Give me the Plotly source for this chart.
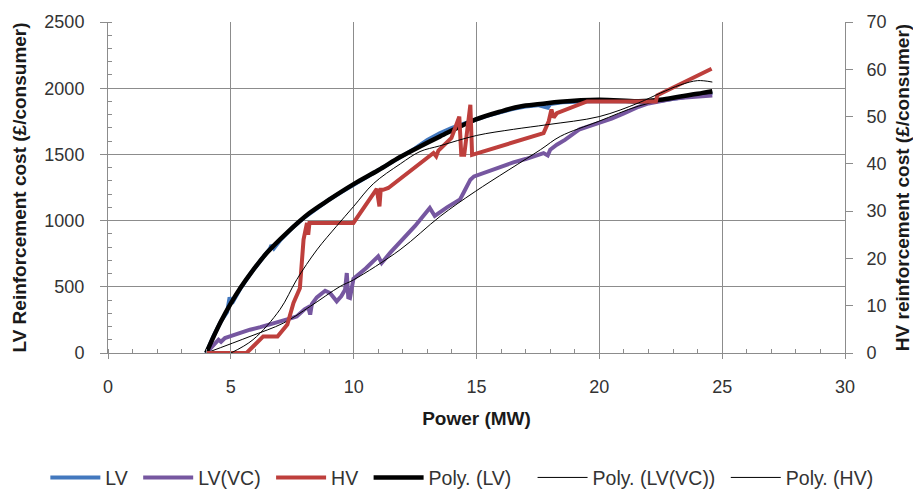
import plotly.graph_objects as go

# ---------------- data ----------------
lv_x = [4.0, 4.3, 4.6, 4.85, 4.95, 5.05, 5.4, 5.8, 6.2, 6.6, 6.65, 6.75, 7.0, 7.5, 8.0, 8.5,
        9.0, 9.5, 10.0, 10.5, 11.0, 11.5, 12.0, 12.5, 13.0, 13.5, 14.0, 14.5, 15.0, 15.5,
        16.0, 16.5, 17.0, 17.5, 17.9, 18.0, 18.5, 19.0, 19.5, 20.0, 20.5, 21.0, 21.5,
        22.0, 22.5, 23.0, 23.5, 24.0, 24.6]
lv_y = [0, 130, 240, 310, 420, 375, 490, 600, 695, 790, 815, 790, 850, 945, 1025, 1095,
        1158, 1215, 1270, 1325, 1380, 1435, 1490, 1545, 1610, 1660, 1700, 1735, 1765, 1795,
        1822, 1845, 1862, 1872, 1852, 1880, 1893, 1898, 1902, 1903, 1902, 1900, 1898,
        1900, 1906, 1920, 1935, 1950, 1965]

lvvc_x = [4.0, 4.3, 4.5, 4.6, 4.76, 4.96, 5.2, 5.5, 5.78, 6.2, 6.5, 6.86, 7.2, 7.5, 7.68,
          7.81, 8.0, 8.15, 8.23, 8.3, 8.5, 8.84, 9.04, 9.31, 9.5, 9.65, 9.72, 9.78, 9.85,
          9.99, 10.5, 11.0, 11.14, 11.5, 12.0, 12.5, 13.1, 13.3, 13.8, 14.33, 14.5, 14.75,
          14.9, 15.5, 16.0, 16.5, 17.0, 17.5, 17.73, 17.9, 18.0, 18.27, 18.6, 19.2, 19.6,
          20.0, 20.5, 21.0, 21.6, 22.0, 22.5, 23.0, 23.5, 24.0, 24.6]
lvvc_y = [0, 60, 100, 85, 113, 125, 140, 160, 176, 195, 210, 226, 245, 265, 276,
          302, 330, 345, 290, 370, 420, 470, 453, 390, 430, 478, 604, 420, 415,
          560, 640, 730, 680, 760, 860, 960, 1095, 1035, 1100, 1160, 1220, 1309,
          1334, 1375, 1410, 1440, 1465, 1495, 1510, 1492, 1535, 1573, 1610, 1690, 1715,
          1735, 1770, 1810, 1860, 1885, 1905, 1920, 1930, 1938, 1945]

hv_x = [4.0, 5.64, 6.32, 6.9, 7.3, 7.55, 7.81, 7.96, 8.1, 8.15, 8.2, 9.99, 10.94, 11.05,
        11.1, 11.2, 11.41, 13.25, 13.36, 13.45, 13.98, 14.3, 14.38, 14.5, 14.75, 14.82,
        17.73, 17.94, 18.05, 18.14, 18.27, 19.5, 22.3, 22.36, 24.57]
hv_y = [0, 0, 3.5, 3.5, 6.0, 10.6, 13.7, 24.0, 27.5, 25.0, 27.5, 27.5, 34.7, 31.0,
        34.5, 34.5, 34.9, 42.3, 41.6, 42.8, 45.5, 50.0, 41.9, 41.9, 52.5, 41.9,
        46.5, 49.0, 51.5, 49.8, 50.7, 53.2, 53.2, 54.5, 60.1]

poly_lv_x = [4.0, 4.3, 4.6, 5.0, 5.4, 5.8, 6.46, 7.27, 8.2, 9.0, 10.0, 11.0, 11.89, 12.7,
             13.52, 14.95, 16.0, 16.78, 17.6, 18.41, 19.98, 21.6, 22.49, 23.3, 24.0, 24.6]
poly_lv_y = [0, 125, 240, 375, 495, 600, 755, 906, 1057, 1158, 1275, 1380, 1480, 1560,
             1636, 1762, 1825, 1862, 1880, 1898, 1913, 1902, 1913, 1938, 1958, 1978]

poly_lvvc_x = [4.0, 5.78, 7.14, 8.23, 9.45, 10.0, 11.89, 13.52, 14.95, 17.6, 18.41, 19.98,
               21.6, 23.3, 24.6]
poly_lvvc_y = [0, 125, 226, 352, 503, 553, 780, 1032, 1220, 1535, 1636, 1750,
               1865, 1935, 1960]

poly_hv_x = [5.0, 5.9, 7.0, 7.68, 8.5, 9.3, 10.0, 10.8, 11.9, 12.7, 13.5, 15.0, 16.5, 17.9,
             20.0, 21.6, 22.5, 23.3, 24.0, 24.6]
poly_hv_y = [0, 2.8, 9.2, 15.5, 21.8, 26.8, 31.0, 35.8, 40.0, 42.6, 43.8, 46.0, 47.3, 48.3,
             50.0, 52.9, 55.0, 56.7, 57.6, 57.3]

x_ticks = [0, 5, 10, 15, 20, 25, 30]
y1_ticks = [0, 500, 1000, 1500, 2000, 2500]
y2_ticks = [0, 10, 20, 30, 40, 50, 60, 70]

# ---------------- figure ----------------
FONT = "Liberation Sans, Arial, sans-serif"
GRID = "#8c8c8c"
TITLE_FONT = dict(family=FONT, size=19, color="#1a1a1a")
PAD = "\u00a0"   # small trailing pad so legend entries spread like the reference

fig = go.Figure()
fig.add_trace(go.Scatter(x=lv_x, y=lv_y, name="LV" + PAD, mode="lines",
                         line=dict(color="#4378BE", width=4)))
fig.add_trace(go.Scatter(x=lvvc_x, y=lvvc_y, name="LV(VC)" + PAD, mode="lines",
                         line=dict(color="#7657A0", width=4)))
fig.add_trace(go.Scatter(x=hv_x, y=hv_y, name="HV" + PAD, mode="lines", yaxis="y2",
                         line=dict(color="#BE3F3C", width=4)))
fig.add_trace(go.Scatter(x=poly_lv_x, y=poly_lv_y, name="Poly. (LV)" + PAD * 3, mode="lines",
                         line=dict(color="black", width=4.5, shape="spline", smoothing=1)))
fig.add_trace(go.Scatter(x=poly_lvvc_x, y=poly_lvvc_y, name="Poly. (LV(VC))" + PAD, mode="lines",
                         line=dict(color="black", width=1, shape="spline", smoothing=1)))
fig.add_trace(go.Scatter(x=poly_hv_x, y=poly_hv_y, name="Poly. (HV)", mode="lines", yaxis="y2",
                         line=dict(color="black", width=1, shape="spline", smoothing=1)))

fig.update_layout(
    width=921, height=493,
    margin=dict(l=100, r=84, t=14, b=148, autoexpand=False),
    paper_bgcolor="white", plot_bgcolor="white",
    font=dict(family=FONT, size=18, color="#333333"),
    showlegend=True,
    legend=dict(orientation="h", x=-0.085, xanchor="left", y=-0.318, yanchor="top",
                font=dict(family=FONT, size=19.5, color="#333333"),
                itemwidth=50, tracegroupgap=0, bgcolor="rgba(0,0,0,0)"),
    xaxis=dict(range=[0, 30], tickvals=x_ticks, ticktext=[str(v) for v in x_ticks],
               showgrid=True, gridcolor=GRID, gridwidth=1, automargin=False,
               showline=True, linecolor=GRID, linewidth=1, zeroline=False,
               ticks="outside", ticklen=5, tickcolor=GRID, ticklabelstandoff=12,
               minor=dict(dtick=1, ticks="inside", ticklen=4, tickcolor=GRID, showgrid=False),
               title=dict(text="<b>Power (MW)</b>", font=TITLE_FONT, standoff=16)),
    yaxis=dict(range=[0, 2500], tickvals=y1_ticks, ticktext=[str(v) for v in y1_ticks],
               showgrid=True, gridcolor=GRID, gridwidth=1, automargin=False,
               showline=True, linecolor=GRID, linewidth=1, zeroline=False,
               ticks="outside", ticklen=7, tickcolor=GRID, ticklabelstandoff=12,
               minor=dict(dtick=100, ticks="inside", ticklen=4, tickcolor=GRID, showgrid=False),
               title=dict(text="<b>LV Reinforcement cost (£/consumer)</b>",
                          font=TITLE_FONT, standoff=12)),
    yaxis2=dict(range=[0, 70], tickvals=y2_ticks, ticktext=[str(v) for v in y2_ticks],
                overlaying="y", side="right", showgrid=False, automargin=False,
                showline=True, linecolor=GRID, linewidth=1, zeroline=False,
                ticks="outside", ticklen=7, tickcolor=GRID, ticklabelstandoff=10,
                title=dict(text="<b>HV reinforcement cost (£/consumer)</b>",
                           font=TITLE_FONT, standoff=10)),
)

fig.write_html("out.html")
